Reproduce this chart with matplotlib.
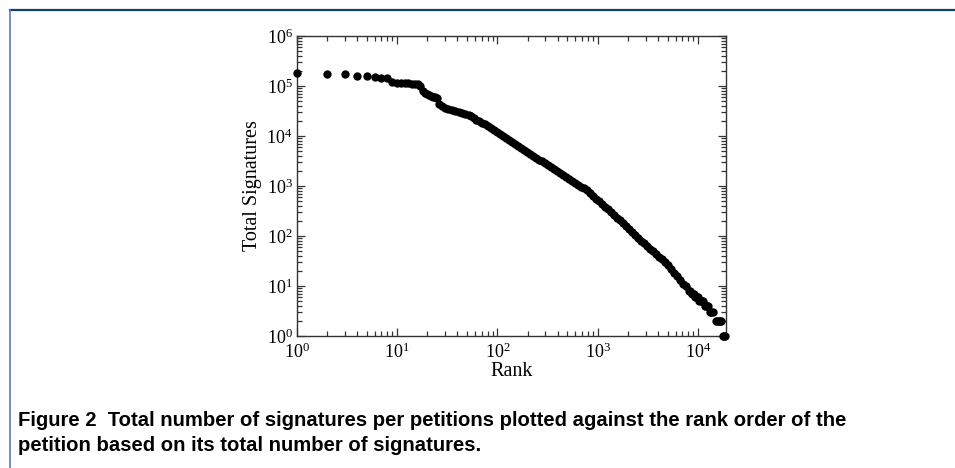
import matplotlib
matplotlib.use("Agg")
import matplotlib.pyplot as plt
from matplotlib.lines import Line2D
from matplotlib.ticker import LogLocator, NullFormatter

plt.rcParams["font.family"] = "Liberation Serif"
plt.rcParams["mathtext.fontset"] = "custom"
plt.rcParams["mathtext.rm"] = "Liberation Serif"
plt.rcParams["mathtext.it"] = "Liberation Serif:italic"

# rank / total signatures
top_rank = [1, 2, 3, 4, 5, 6, 7, 8, 9, 10, 11, 12, 13, 14, 15, 16, 17, 18,
            19, 20, 21, 22, 23, 24, 25]
top_sigs = [180000, 176000, 174000, 158000, 156000, 151000, 147000, 143000,
            120000, 116000, 115000, 113000, 113000, 112000, 112000, 111000,
            100000, 80500, 72500, 68000, 65000, 63000, 61000, 59500, 58000]

body_rank = [26, 28, 30, 32, 35, 38, 41, 44, 48, 52, 55, 58, 61, 65, 70, 75,
             80, 86, 92, 99, 106, 113, 121, 130, 139, 149, 160, 171, 183, 196,
             210, 225, 241, 258, 276, 296, 317, 340, 364, 390, 418, 448, 480,
             514, 551, 590, 632, 677, 725, 777, 832, 891, 955, 1023, 1096,
             1174, 1258, 1348, 1444, 1547, 1657, 1775, 1901, 2037, 2182, 2338,
             2504, 2683, 2874, 3079, 3299, 3534, 3786, 4056, 4345, 4655, 4987,
             5342, 5723, 6131, 6568, 7036, 7537, 8074]
body_sigs = [43600, 39800, 36600, 34900, 32900, 31100, 29800, 28700, 27500,
             26400, 24800, 23200, 21300, 20100, 18400, 17000, 15700, 14300,
             13100, 11900, 10900, 9950, 9070, 8240, 7520, 6870, 6270, 5750,
             5270, 4830, 4420, 4040, 3700, 3380, 3100, 2840, 2600, 2380, 2170,
             1990, 1820, 1660, 1520, 1390, 1270, 1160, 1070, 975, 895, 815,
             720, 635, 561, 495, 437, 385, 340, 300, 265, 234, 207, 181, 157,
             137, 119, 104, 91, 81, 71, 63, 56, 49, 43, 38, 34, 30, 26, 22, 18,
             16, 13, 11, 10, 8]

tail_rank = [8400, 8650, 8900, 9100, 9300, 9550, 9800, 10000, 10300, 10600,
             10900, 11300, 11800, 12100, 12400, 12600, 13300, 13600, 14000,
             15000, 15500, 16000, 16500, 16900, 17600, 18100, 18700]
tail_sigs = [8, 7, 7, 7, 6, 6, 6, 6, 5, 5, 5, 5, 4, 4, 4, 4, 3, 3, 3,
             2, 2, 2, 2, 2, 1, 1, 1]

rank = top_rank + body_rank + tail_rank
sigs = top_sigs + body_sigs + tail_sigs

fig = plt.figure(figsize=(9.55, 4.68), dpi=100)
ax = fig.add_axes([296.7 / 955, 132 / 468, 429.3 / 955, 300 / 468])

ax.plot(rank, sigs, "o", color="black", markersize=6.0, markeredgewidth=0,
        clip_on=False, zorder=3)

ax.set_xscale("log")
ax.set_yscale("log")
ax.set_xlim(1, 1.9e4)
ax.set_ylim(1, 1e6)

for axis in (ax.xaxis, ax.yaxis):
    axis.set_major_locator(LogLocator(base=10, numticks=20))
    axis.set_minor_locator(LogLocator(base=10, subs=range(2, 10), numticks=20))
    axis.set_minor_formatter(NullFormatter())

ax.tick_params(which="both", direction="in", top=True, right=True,
               labelsize=13, width=0.9, color="#333333")
ax.tick_params(which="major", length=6)
ax.tick_params(axis="x", which="major", pad=4.5)
ax.tick_params(axis="y", which="major", pad=3)
ax.tick_params(which="minor", length=3.5)
for s in ax.spines.values():
    s.set_linewidth(1.0)
    s.set_color("#333333")

ax.set_xlabel("Rank", fontsize=14.5)
ax.set_ylabel("Total Signatures", fontsize=14.5)
ax.xaxis.set_label_coords(0.5, -0.086)
ax.yaxis.set_label_coords(-0.08, 0.5)

# page frame
fig.add_artist(Line2D([10 / 955, 1], [1 - 10 / 468, 1 - 10 / 468],
                      color="#123f7a", lw=1.6))
fig.add_artist(Line2D([10 / 955, 10 / 955], [0, 1 - 10 / 468],
                      color="#5b7db1", lw=1.2))

cap_font = ["Liberation Sans", "DejaVu Sans"]
fig.text(18 / 955, 1 - 426 / 468,
         "Figure 2  Total number of signatures per petitions plotted against the rank order of the",
         family=cap_font, fontweight="bold", fontsize=14.6, va="baseline")
fig.text(18 / 955, 1 - 451 / 468,
         "petition based on its total number of signatures.",
         family=cap_font, fontweight="bold", fontsize=14.6, va="baseline")

fig.savefig("out.png", dpi=100)
